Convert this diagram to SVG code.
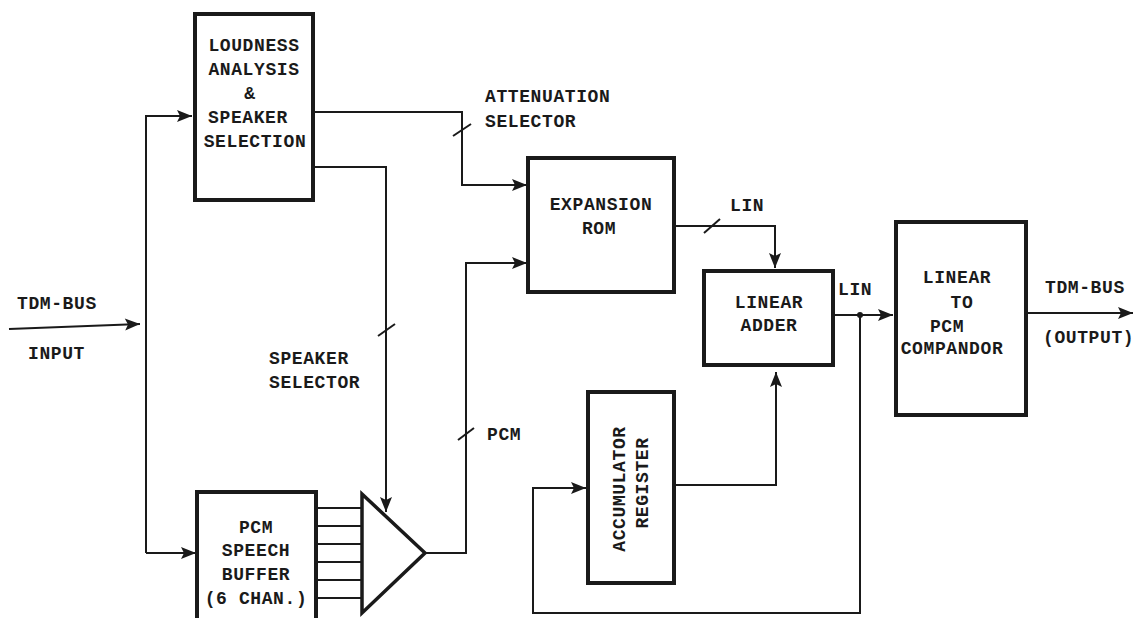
<svg xmlns="http://www.w3.org/2000/svg" width="1141" height="618" viewBox="0 0 1141 618">
<style>
.box{fill:#fff;stroke:#1a1a1a;stroke-width:4}
.ln{fill:none;stroke:#1a1a1a;stroke-width:2}
.t{font-family:"Liberation Mono","Courier New",monospace;font-weight:bold;font-size:18px;fill:#1a1a1a;letter-spacing:0.6px}
</style>
<defs>
<marker id="ah" viewBox="0 0 10 10" refX="10" refY="5" markerWidth="22" markerHeight="15" markerUnits="userSpaceOnUse" orient="auto">
<path d="M0,1 L10,5 L0,9 L2,5 Z" fill="#1a1a1a"/>
</marker>
</defs>
<rect width="1141" height="618" fill="#fff"/>
<g id="connectors">
<path class="ln" d="M9,329 L140,324" marker-end="url(#ah)"/>
<path class="ln" d="M146,553 L146,116 L192,116" marker-end="url(#ah)"/>
<path class="ln" d="M146,553 L196,553" marker-end="url(#ah)"/>
<path class="ln" d="M313,112 L462,112 L462,185 L527,185" marker-end="url(#ah)"/>
<path class="ln" d="M453,136 L471,124"/>
<path class="ln" d="M313,167 L386,167 L386,512" marker-end="url(#ah)"/>
<path class="ln" d="M378,336 L395,324"/>
<g class="ln">
<line x1="316" y1="508" x2="362" y2="508"/>
<line x1="316" y1="526" x2="362" y2="526"/>
<line x1="316" y1="544" x2="362" y2="544"/>
<line x1="316" y1="562" x2="362" y2="562"/>
<line x1="316" y1="580" x2="362" y2="580"/>
<line x1="316" y1="598" x2="362" y2="598"/>
</g>
<path class="ln" d="M425,553 L466,553 L466,263 L527,263" marker-end="url(#ah)"/>
<path class="ln" d="M458,440 L474,428"/>
<path class="ln" d="M674,226 L775,226 L775,268" marker-end="url(#ah)"/>
<path class="ln" d="M704,233 L720,219"/>
<path class="ln" d="M674,485 L776,485 L776,372" marker-end="url(#ah)"/>
<path class="ln" d="M833,315 L893,315" marker-end="url(#ah)"/>
<circle cx="860" cy="315" r="3" fill="#1a1a1a"/>
<path class="ln" d="M860,315 L860,613 L533,613 L533,488 L586,488" marker-end="url(#ah)"/>
<path class="ln" d="M1026,313 L1133,313" marker-end="url(#ah)"/>
</g>
<g id="loudness">
<rect class="box" x="195" y="14" width="118" height="186"/>
<text class="t" x="254" y="51" text-anchor="middle">LOUDNESS</text>
<text class="t" x="254" y="75" text-anchor="middle">ANALYSIS</text>
<text class="t" x="250" y="99" text-anchor="middle">&amp;</text>
<text class="t" x="248" y="123" text-anchor="middle">SPEAKER</text>
<text class="t" x="255" y="147" text-anchor="middle">SELECTION</text>
</g>
<g id="pcmbuffer">
<rect class="box" x="197" y="492" width="119" height="130"/>
<text class="t" x="256" y="533" text-anchor="middle">PCM</text>
<text class="t" x="256" y="556" text-anchor="middle">SPEECH</text>
<text class="t" x="256" y="580" text-anchor="middle">BUFFER</text>
<text class="t" x="256" y="604" text-anchor="middle">(6 CHAN.)</text>
</g>
<g id="selector">
<path d="M362,494 L425,553 L362,613 Z" fill="#fff" stroke="#1a1a1a" stroke-width="3.5" stroke-linejoin="miter"/>
</g>
<g id="expansion">
<rect class="box" x="528" y="158" width="146" height="134"/>
<text class="t" x="601" y="210" text-anchor="middle">EXPANSION</text>
<text class="t" x="599" y="234" text-anchor="middle">ROM</text>
</g>
<g id="adder">
<rect class="box" x="704" y="271" width="129" height="94"/>
<text class="t" x="769" y="308" text-anchor="middle">LINEAR</text>
<text class="t" x="769" y="331" text-anchor="middle">ADDER</text>
</g>
<g id="accumulator">
<rect class="box" x="588" y="392" width="86" height="191"/>
<text class="t" transform="translate(625,489) rotate(-90)" text-anchor="middle">ACCUMULATOR</text>
<text class="t" transform="translate(648,483) rotate(-90)" text-anchor="middle">REGISTER</text>
</g>
<g id="compandor">
<rect class="box" x="896" y="222" width="130" height="193"/>
<text class="t" x="957" y="283" text-anchor="middle">LINEAR</text>
<text class="t" x="962" y="308" text-anchor="middle">TO</text>
<text class="t" x="947" y="332" text-anchor="middle">PCM</text>
<text class="t" x="952" y="354" text-anchor="middle">COMPANDOR</text>
</g>
<g id="labels">
<text class="t" x="17" y="309">TDM-BUS</text>
<text class="t" x="28" y="359">INPUT</text>
<text class="t" x="485" y="102">ATTENUATION</text>
<text class="t" x="485" y="127">SELECTOR</text>
<text class="t" x="269" y="364">SPEAKER</text>
<text class="t" x="269" y="388">SELECTOR</text>
<text class="t" x="487" y="440">PCM</text>
<text class="t" x="730" y="211">LIN</text>
<text class="t" x="838" y="295">LIN</text>
<text class="t" x="1045" y="293">TDM-BUS</text>
<text class="t" x="1043" y="343">(OUTPUT)</text>
</g>
</svg>
